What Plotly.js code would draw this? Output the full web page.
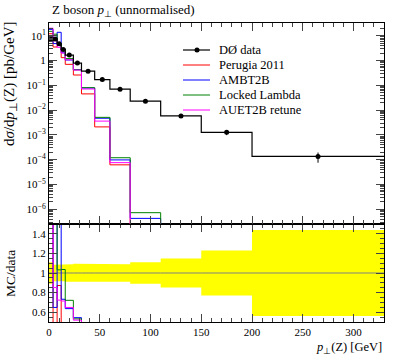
<!DOCTYPE html>
<html><head><meta charset="utf-8">
<script src="https://cdn.plot.ly/plotly-3.0.1.min.js"></script>
<style>html,body{margin:0;padding:0;background:#fff}#chart{width:397px;height:358px}</style>
</head><body><div id="chart"></div>
<script>
// ---- data ----
const binEdges = [0, 4, 8, 12, 16, 24, 32, 45, 60, 80, 110, 150, 200, 330];
const d0Data = [7.2, 7.4, 4.7, 2.8, 1.65, 0.79, 0.37, 0.17, 0.07, 0.023, 0.0058, 0.00127, 1.35e-4];
const d0RelErr = [0.11, 0.085, 0.085, 0.085, 0.09, 0.095, 0.095, 0.095, 0.09, 0.11, 0.147, 0.23, 0.44];
const perugia2011 = [12, 3.5, 4.1, 1.3, 0.7, 0.26, 0.045, 0.0021, 6.2e-5, 0, 0, 0, 0];
const ambt2b = [18, 4.8, 13.7, 2.05, 1.05, 0.43, 0.078, 0.0047, 9.8e-5, 4.3e-7, 0, 0, 0];
const lockedLambda = [15, 11.5, 4.85, 2.9, 1.19, 0.42, 0.080, 0.0051, 1.2e-4, 7.3e-7, 0, 0, 0];
const auet2bRetune = [20, 6.3, 3.4, 2.0, 1.07, 0.41, 0.071, 0.0036, 7.6e-5, 0, 0, 0, 0];
const legendLabels = ['DØ data', 'Perugia 2011', 'AMBT2B', 'Locked Lambda', 'AUET2B retune'];
const mainTickVals = [1e-6, 1e-5, 1e-4, 1e-3, 1e-2, 1e-1, 1, 10];
const mainTickText = ['10<sup>−6</sup>', '10<sup>−5</sup>', '10<sup>−4</sup>', '10<sup>−3</sup>', '10<sup>−2</sup>', '10<sup>−1</sup>', '1', '10<sup>1</sup>'];
const ratioTickVals = [0.6, 0.8, 1, 1.2, 1.4];
const ratioTickText = ['0.6', '0.8', '1', '1.2', '1.4'];
const xTickVals = [0, 50, 100, 150, 200, 250, 300];

// ---- layout geometry ----
const W = 397, H = 358, ML = 49, MR = 13, MT = 23, MB = 36;
const PW = W - ML - MR, PH = H - MT - MB;
const SPLIT = (H - MB - 224) / PH;
const px2x = p => (p - ML) / PW;
const py2y = p => (H - MB - p) / PH;
const FONT = 'Liberation Serif, Times New Roman, serif';

const mcSeries = [
  {vals: perugia2011, color: '#ff0000'},
  {vals: ambt2b, color: '#0000ff'},
  {vals: lockedLambda, color: '#008000'},
  {vals: auet2bRetune, color: '#ff00ff'}
];

function stepTrace(vals, floor, color, width, xa, ya) {
  const y = vals.map(v => (v > 0 ? v : floor));
  y.push(y[y.length - 1]);
  return {x: binEdges.slice(), y: y, mode: 'lines', line: {shape: 'hv', color: color, width: width},
          xaxis: xa, yaxis: ya, showlegend: false, hoverinfo: 'skip'};
}

const traces = [];
// ratio band
const bx = [], by = [];
for (let i = 0; i < d0Data.length; i++) { bx.push(binEdges[i], binEdges[i + 1]); by.push(1 + d0RelErr[i], 1 + d0RelErr[i]); }
for (let i = d0Data.length - 1; i >= 0; i--) { bx.push(binEdges[i + 1], binEdges[i]); by.push(1 - d0RelErr[i], 1 - d0RelErr[i]); }
traces.push({x: bx, y: by, fill: 'toself', fillcolor: '#ffff00', mode: 'lines', line: {width: 0, color: '#ffff00'},
             xaxis: 'x', yaxis: 'y', showlegend: false, hoverinfo: 'skip'});
traces.push(stepTrace(d0Data.map(v => v / v), 0, '#808080', 1, 'x', 'y'));
// MC ratios
mcSeries.forEach(s => {
  traces.push(stepTrace(s.vals.map((v, i) => v / d0Data[i]), 0, s.color, 1, 'x', 'y'));
});
// main panel MC
mcSeries.forEach(s => { traces.push(stepTrace(s.vals, 1e-30, s.color, 1, 'x2', 'y2')); });
// data
traces.push(stepTrace(d0Data, 1e-30, '#000000', 1.2, 'x2', 'y2'));
const centers = d0Data.map((v, i) => (binEdges[i] + binEdges[i + 1]) / 2);
traces.push({x: centers, y: d0Data, mode: 'markers', marker: {color: '#000', size: 5},
  error_y: {type: 'data', array: d0Data.map((v, i) => v * d0RelErr[i]), visible: true, thickness: 1, width: 0, color: '#000'},
  xaxis: 'x2', yaxis: 'y2', showlegend: false, hoverinfo: 'skip'});

const axisCommon = {ticks: 'inside', ticklen: 8, tickwidth: 1, tickcolor: '#444', showline: true, linecolor: '#000',
  linewidth: 1, mirror: 'allticks', showgrid: false, zeroline: false, tickfont: {family: FONT, size: 11, color: '#000'}};

const layout = {
  width: W, height: H, margin: {l: ML, r: MR, t: MT, b: MB, pad: 0},
  paper_bgcolor: '#fff', plot_bgcolor: '#fff', showlegend: false,
  font: {family: FONT, color: '#000'},
  xaxis: Object.assign({}, axisCommon, {domain: [0, 1], anchor: 'y', range: [0, 330], tickmode: 'array', tickvals: xTickVals,
    minor: {dtick: 10, tick0: 0, ticks: 'inside', ticklen: 4, tickcolor: '#444', showgrid: false}}),
  xaxis2: Object.assign({}, axisCommon, {domain: [0, 1], anchor: 'y2', matches: 'x', range: [0, 330], tickmode: 'array',
    tickvals: xTickVals, showticklabels: false,
    minor: {dtick: 10, tick0: 0, ticks: 'inside', ticklen: 4, tickcolor: '#444', showgrid: false}}),
  yaxis: Object.assign({}, axisCommon, {domain: [0, SPLIT], anchor: 'x', range: [0.5, 1.5], tickmode: 'array',
    tickvals: ratioTickVals, ticktext: ratioTickText,
    minor: {dtick: 0.05, tick0: 0, ticks: 'inside', ticklen: 4, tickcolor: '#444', showgrid: false}}),
  yaxis2: Object.assign({}, axisCommon, {domain: [SPLIT, 1], anchor: 'x2', type: 'log', range: [-6.593, 1.512],
    tickmode: 'array', tickvals: mainTickVals, ticktext: mainTickText,
    minor: {dtick: 'D1', ticks: 'inside', ticklen: 4, tickcolor: '#444', showgrid: false}}),
  annotations: [],
  shapes: []
};

// titles
layout.annotations.push({text: 'Z boson <i>p</i><sub>⊥</sub> (unnormalised)', xref: 'paper', yref: 'paper',
  x: px2x(50), y: py2y(10), xanchor: 'left', yanchor: 'middle', showarrow: false, font: {family: FONT, size: 13}});
layout.annotations.push({text: 'd<i>σ</i>/d<i>p</i><sub>⊥</sub>(Z) [pb/GeV]', xref: 'paper', yref: 'paper', textangle: -90,
  x: px2x(10), y: py2y(20), xanchor: 'center', yanchor: 'top', showarrow: false, font: {family: FONT, size: 15}});
layout.annotations.push({text: 'MC/data', xref: 'paper', yref: 'paper', textangle: -90,
  x: px2x(10), y: py2y(274), xanchor: 'center', yanchor: 'middle', showarrow: false, font: {family: FONT, size: 13.5}});
layout.annotations.push({text: '<i>p</i><sub>⊥</sub>(Z) [GeV]', xref: 'paper', yref: 'paper',
  x: px2x(384), y: py2y(348), xanchor: 'right', yanchor: 'middle', showarrow: false, font: {family: FONT, size: 12.5}});

// legend
const legendColors = ['#000000', '#ff0000', '#0000ff', '#008000', '#ff00ff'];
legendLabels.forEach((lab, i) => {
  const py = 50 + 15 * i;
  layout.shapes.push({type: 'line', xref: 'paper', yref: 'paper', x0: px2x(183), x1: px2x(210), y0: py2y(py), y1: py2y(py),
    line: {color: legendColors[i], width: i === 0 ? 1.2 : 1}});
  layout.annotations.push({text: lab, xref: 'paper', yref: 'paper', x: px2x(217), y: py2y(py), xanchor: 'left',
    yanchor: 'middle', showarrow: false, font: {family: FONT, size: 12.5}});
});
layout.shapes.push({type: 'circle', xref: 'paper', yref: 'paper', x0: px2x(194.5), x1: px2x(199.5), y0: py2y(52.5), y1: py2y(47.5),
  fillcolor: '#000', line: {width: 0}});

Plotly.newPlot('chart', traces, layout, {displayModeBar: false, staticPlot: true});
</script>
</body></html>
